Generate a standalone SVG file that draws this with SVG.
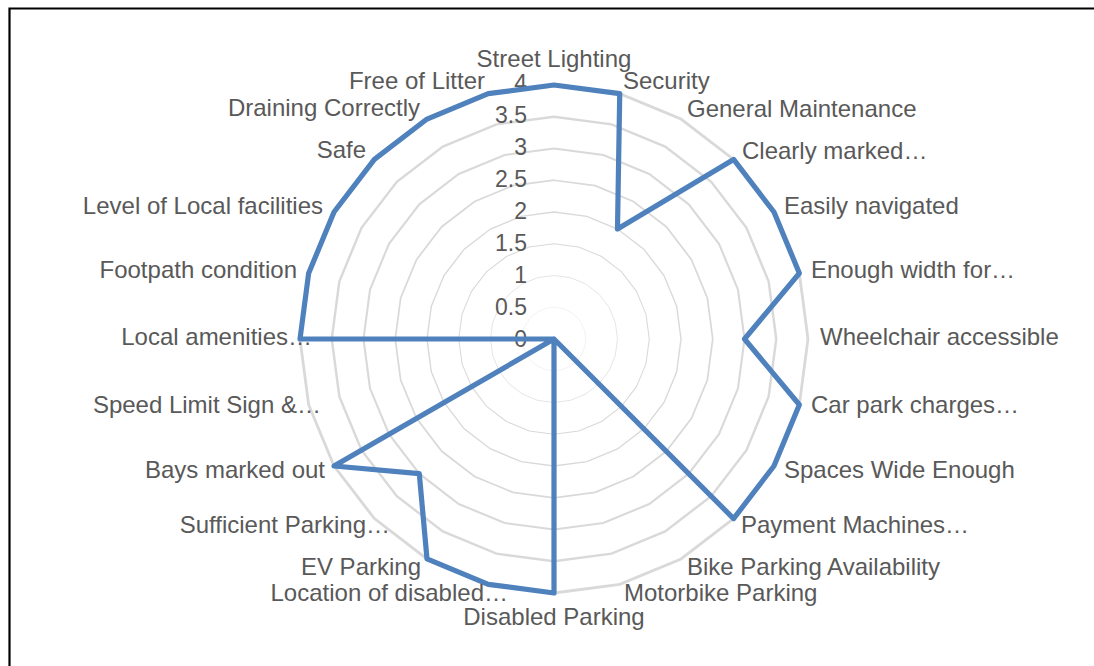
<svg xmlns="http://www.w3.org/2000/svg" xmlns:xlink="http://www.w3.org/1999/xlink" width="1094" height="666" viewBox="0 0 1094 666">
<style>
.lbl{font-family:"Liberation Sans",Arial,sans-serif;font-size:24px;fill:#595959}
.axis{font-family:"Liberation Sans",Arial,sans-serif;font-size:23px;fill:#595959;text-anchor:end}
.ring{fill:none;stroke:#d9d9d9;stroke-width:1.1}
.e{text-anchor:end}
.m{text-anchor:middle}
</style>
<defs>
<polygon id="ring24" points="0,-100 25.882,-96.593 50,-86.603 70.711,-70.711 86.603,-50 96.593,-25.882 100,0 96.593,25.882 86.603,50 70.711,70.711 50,86.603 25.882,96.593 0,100 -25.882,96.593 -50,86.603 -70.711,70.711 -86.603,50 -96.593,25.882 -100,0 -96.593,-25.882 -86.603,-50 -70.711,-70.711 -50,-86.603 -25.882,-96.593"/>
</defs>
<rect width="1094" height="666" fill="#ffffff"/>
<path d="M9.5 666 V8.5 H1094" fill="none" stroke="#000000" stroke-width="2.2"/>
<g id="grid" class="ring">
<use xlink:href="#ring24" transform="translate(554 339) scale(0.3175)" style="vector-effect:non-scaling-stroke"/>
<use xlink:href="#ring24" transform="translate(554 339) scale(0.635)" style="vector-effect:non-scaling-stroke"/>
<use xlink:href="#ring24" transform="translate(554 339) scale(0.9525)" style="vector-effect:non-scaling-stroke"/>
<use xlink:href="#ring24" transform="translate(554 339) scale(1.27)" style="vector-effect:non-scaling-stroke"/>
<use xlink:href="#ring24" transform="translate(554 339) scale(1.5875)" style="vector-effect:non-scaling-stroke"/>
<use xlink:href="#ring24" transform="translate(554 339) scale(1.905)" style="vector-effect:non-scaling-stroke"/>
<use xlink:href="#ring24" transform="translate(554 339) scale(2.2225)" style="vector-effect:non-scaling-stroke"/>
<use xlink:href="#ring24" transform="translate(554 339) scale(2.54)" style="vector-effect:non-scaling-stroke"/>
</g>
<g id="axis-values">
<text class="axis" x="527" y="347">0</text>
<text class="axis" x="527" y="315">0.5</text>
<text class="axis" x="527" y="283">1</text>
<text class="axis" x="527" y="251">1.5</text>
<text class="axis" x="527" y="219">2</text>
<text class="axis" x="527" y="187">2.5</text>
<text class="axis" x="527" y="155">3</text>
<text class="axis" x="527" y="123">3.5</text>
<text class="axis" x="527" y="91">4</text>
</g>
<g id="series">
<polygon points="554,85 619.74,93.65 617.5,229.01 733.6,159.4 773.97,212 799.35,273.26 744.5,339 799.35,404.74 773.97,466 733.6,518.6 554,339 554,339 554,593 488.26,584.35 427,558.97 419.3,473.7 334.03,466 554,339 300,339 308.65,273.26 334.03,212 374.4,159.4 427,119.03 488.26,93.65" fill="none" stroke="#4f81bd" stroke-width="5.2" stroke-linejoin="round"/>
</g>
<g id="categories" class="lbl">
<text class="m" x="554" y="67">Street Lighting</text>
<text x="623" y="89">Security</text>
<text x="687" y="117">General Maintenance</text>
<text x="742" y="159">Clearly marked…</text>
<text x="784" y="214">Easily navigated</text>
<text x="811" y="278">Enough width for…</text>
<text x="820" y="345">Wheelchair accessible</text>
<text x="811" y="413">Car park charges…</text>
<text x="784" y="478">Spaces Wide Enough</text>
<text x="741" y="533">Payment Machines…</text>
<text x="687" y="575">Bike Parking Availability</text>
<text x="624" y="601">Motorbike Parking</text>
<text class="m" x="554" y="625">Disabled Parking</text>
<text class="e" x="508" y="601">Location of disabled…</text>
<text class="e" x="421" y="575">EV Parking</text>
<text class="e" x="390" y="533">Sufficient Parking…</text>
<text class="e" x="325" y="478">Bays marked out</text>
<text class="e" x="321" y="413">Speed Limit Sign &amp;…</text>
<text class="e" x="312" y="345">Local amenities…</text>
<text class="e" x="297" y="278">Footpath condition</text>
<text class="e" x="323" y="214">Level of Local facilities</text>
<text class="e" x="366" y="158">Safe</text>
<text class="e" x="420" y="116">Draining Correctly</text>
<text class="e" x="485" y="89">Free of Litter</text>
</g>
</svg>
